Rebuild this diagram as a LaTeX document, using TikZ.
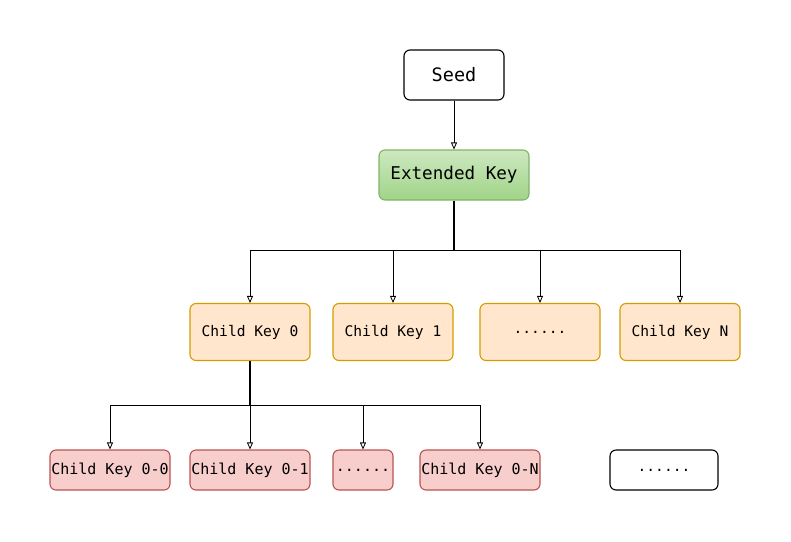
\documentclass[tikz,border=0pt]{standalone}
\usepackage{fontspec}
\setmonofont{DejaVu Sans Mono}
\usetikzlibrary{arrows.meta, positioning}
\definecolor{keygreentop}{RGB}{205,232,192}
\definecolor{keygreen}{RGB}{160,212,136}
\definecolor{keygreenline}{RGB}{130,179,102}
\definecolor{keyorange}{RGB}{255,230,204}
\definecolor{keyorangeline}{RGB}{215,155,0}
\definecolor{keyred}{RGB}{248,206,204}
\definecolor{keyredline}{RGB}{184,84,80}

\tikzset{
    keybox/.style={draw,rounded corners=6pt,line width=1.1pt,align=center,inner sep=0pt,font=\ttfamily\fontsize{14.6}{17}\selectfont},
    topbox/.style={keybox,minimum width=100pt,minimum height=50pt,fill=white,font=\ttfamily\fontsize{18.5}{21}\selectfont},
    extbox/.style={keybox,minimum width=150pt,minimum height=50pt,top color=keygreentop,bottom color=keygreen,draw=keygreenline,font=\ttfamily\fontsize{17.6}{20}\selectfont},
    childbox/.style={keybox,minimum width=120pt,minimum height=57pt,fill=keyorange,draw=keyorangeline},
    grandbox/.style={keybox,minimum width=120pt,minimum height=40pt,fill=keyred,draw=keyredline,font=\ttfamily\fontsize{15}{17}\selectfont},
    link/.style={-{Triangle[open,length=7pt,width=6pt]},line width=0.8pt}
}

\begin{document}
\begin{tikzpicture}[x=1pt,y=-1pt]
    \useasboundingbox (0,0) rectangle (791,541);
    % top
    \node[topbox] (seed) at (454,75) {Seed};
    \node[extbox] (ext) at (454,175) {Extended Key};
    % level one
    \node[childbox] (ck0) at (250,332) {Child Key 0};
    \node[childbox] (ck1) at (393,332) {Child Key 1};
    \node[childbox] (ckd) at (540,332) {......};
    \node[childbox] (ckn) at (680,332) {Child Key N};
    % level two
    \node[grandbox] (gk0) at (110,470) {Child Key 0-0};
    \node[grandbox] (gk1) at (250,470) {Child Key 0-1};
    \node[grandbox,minimum width=60pt] (gkd) at (363,470) {......};
    \node[grandbox] (gkn) at (480,470) {Child Key 0-N};
    \node[keybox,minimum width=108pt,minimum height=40pt] (more) at (664,470) {......};

    \coordinate (j1) at (454,250);
    \coordinate (j2) at (250,405);

    \draw[link] (seed) -- (ext);
    \draw[line width=1.6pt] (ext.south) -- (j1);
    \foreach \k in {ck0,ck1,ckd,ckn} {
        \draw[link] (j1) -| (\k.north);
    }
    \draw[line width=1.6pt] (ck0.south) -- (j2);
    \foreach \k in {gk0,gk1,gkd,gkn} {
        \draw[link] (j2) -| (\k.north);
    }
\end{tikzpicture}
\end{document}
